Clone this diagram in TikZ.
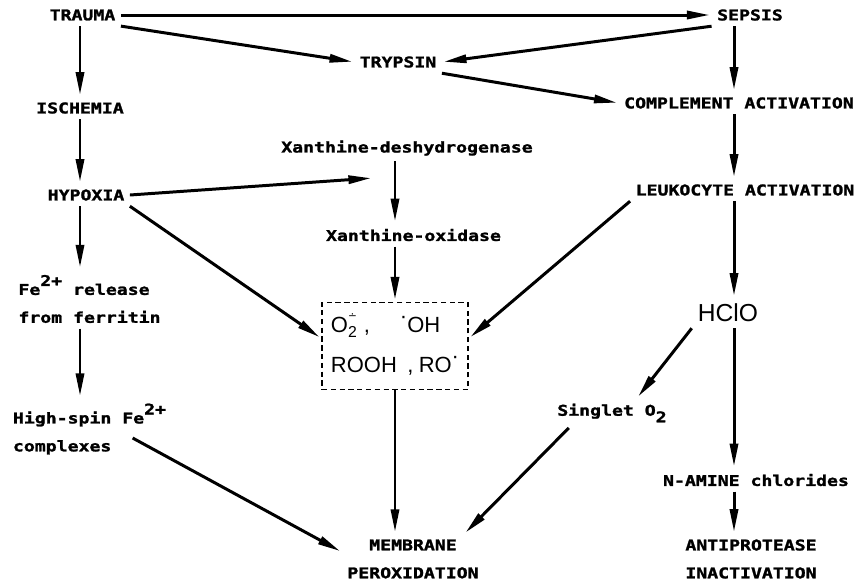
\documentclass[tikz,border=0pt]{standalone}
\usepackage{fontspec}
\usepackage{tikz}
\usetikzlibrary{arrows.meta,positioning}
\newfontfamily\labelfont{DejaVu Sans Mono}[FakeStretch=1.23, BoldFeatures={FakeBold=1.6}]
\newfontfamily\chemfont{Liberation Sans}
\newfontfamily\dotfont{DejaVu Sans}
% radical dot, ion charge, lowered index
\newcommand{\radot}{\raisebox{0.42em}{·}}
\newcommand{\ioncharge}[1]{\raisebox{0.6em}{#1}}
\newcommand{\lowidx}[1]{\raisebox{-0.45em}{#1}}
\newcommand{\superox}{O\rlap{\smash{\raisebox{0.62em}{\dotfont\fontsize{6}{6}\selectfont ∸}}}\raisebox{-0.2em}{\fontsize{9}{9}\selectfont 2}}

\begin{document}
\begin{tikzpicture}[
    lbl/.style={font=\labelfont\bfseries\fontsize{8.4}{15.9}\selectfont, inner sep=3pt},
    chem/.style={font=\chemfont\fontsize{12.5}{22.8}\selectfont},
    radbox/.style={chem, draw, dashed, dash pattern=on 3pt off 2pt, line width=1.1pt,
                   minimum width=2.92cm, minimum height=1.74cm, align=left, inner sep=2pt},
    arr/.style={-{Triangle[length=13pt,width=4.6pt]}, line width=1.7pt, shorten >=1pt}
]
    \useasboundingbox (0,0) rectangle (17.2,-11.62);
    \coordinate (colL) at (1.60,0);
    \coordinate (colR) at (14.68,0);
    \coordinate (xdhin) at (7.46,-3.56);

    \node[lbl] (trauma)     at (1.65,-0.30)  {TRAUMA};
    \node[lbl] (sepsis)     at (15.00,-0.30) {SEPSIS};
    \node[lbl] (trypsin)    at (7.96,-1.24)  {TRYPSIN};
    \node[lbl] (ischemia)   at (1.60,-2.16)  {ISCHEMIA};
    \node[lbl] (complement) at (14.78,-2.06) {COMPLEMENT ACTIVATION};
    \node[lbl] (xdh)        at (8.14,-2.96)  {Xanthine-deshydrogenase};
    \node[lbl] (hypoxia)    at (1.72,-3.90)  {HYPOXIA};
    \node[lbl] (leuko)      at (14.90,-3.80) {LEUKOCYTE ACTIVATION};
    \node[lbl] (xo)         at (8.27,-4.70)  {Xanthine-oxidase};
    \node[lbl, align=left] (ferelease) at (1.79,-5.98) {Fe\ioncharge{2+} release\\from ferritin};
    \node[radbox] (box)     at (7.90,-6.92)
        {\superox\hspace{4pt},\hspace{0.6cm}\radot OH\\ROOH\hspace{6pt},\hspace{3pt}RO\radot};
    \node[chem, font=\chemfont\fontsize{14}{16}\selectfont] (hclo) at (14.56,-6.26) {HClO};
    \node[lbl] (singlet)    at (12.24,-8.26) {Singlet O\lowidx{2}};
    \node[lbl, align=left] (highspin) at (1.79,-8.58) {High-spin Fe\ioncharge{2+}\\complexes};
    \node[lbl] (namine)     at (15.12,-9.60) {N-AMINE chlorides};
    \node[lbl, align=center] (membrane) at (8.26,-11.18) {MEMBRANE\\PEROXIDATION};
    \node[lbl, align=center] (antiprot) at (15.02,-11.18) {ANTIPROTEASE\\INACTIVATION};

    % top row
    \draw[arr] (trauma) -- (sepsis);
    \draw[arr] (trauma.south east) -- (trypsin.west);
    \draw[arr] (sepsis.south west) -- (trypsin.east);
    \draw[arr] (trypsin.south east) -- (complement.west);

    % left column
    \draw[arr] (trauma.south -| colL) -- (ischemia.north -| colL);
    \draw[arr] (ischemia.south -| colL) -- (hypoxia.north -| colL);
    \draw[arr] (hypoxia.south -| colL) -- (ferelease.north -| colL);
    \draw[arr] (ferelease.south -| colL) -- (highspin.north -| colL);
    \draw[arr] (hypoxia.east) -- (xdhin);
    \draw[arr] (hypoxia.south east) -- (box.174);
    \draw[arr] ([xshift=-0.78cm,yshift=-0.18cm]highspin.east) -- ([yshift=0.14cm]membrane.west);

    % middle column
    \draw[arr] (xdh.south -| box) -- (xo.north -| box);
    \draw[arr] (xo.south -| box) -- (box.north);
    \draw[arr] (box.south) -- (box.south |- membrane.north);

    % right column
    \draw[arr] (sepsis.south -| colR) -- (complement.north -| colR);
    \draw[arr] (complement.south -| colR) -- (leuko.north -| colR);
    \draw[arr] (leuko.south -| colR) -- (hclo.north -| colR);
    \draw[arr] (hclo.south -| colR) -- (namine.north -| colR);
    \draw[arr] (namine.south -| colR) -- (antiprot.north -| colR);
    \draw[arr] (leuko.south west) -- (box.6);
    \draw[arr] (hclo.south west) -- ([xshift=0.5cm]singlet.north);
    \draw[arr] ([xshift=0.34cm]singlet.south west) -- ([xshift=-0.4cm]membrane.north east);
\end{tikzpicture}
\end{document}
